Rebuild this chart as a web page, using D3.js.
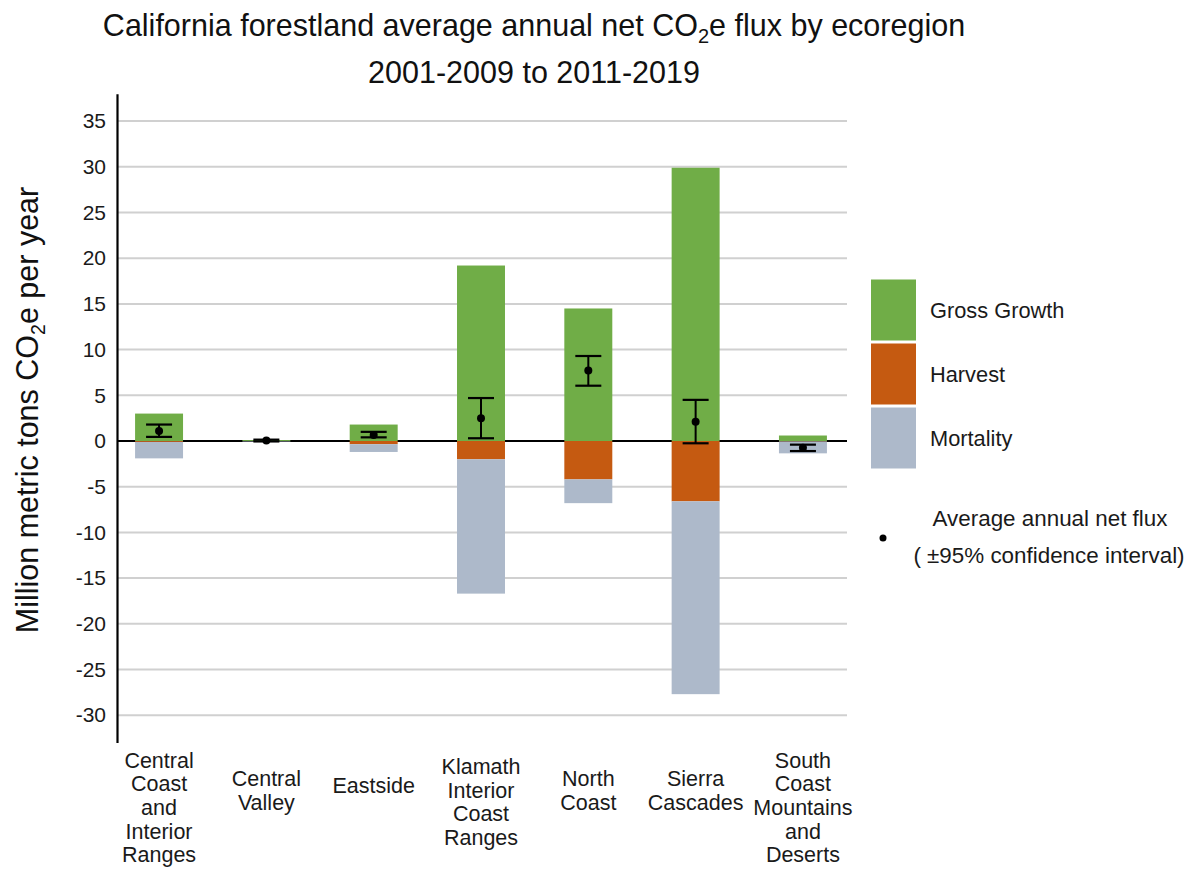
<!DOCTYPE html>
<html>
<head>
<meta charset="utf-8">
<script src="https://cdn.jsdelivr.net/npm/d3@7"></script>
<style>
  html, body { margin: 0; padding: 0; background: #ffffff; }
  svg { display: block; font-family: "Liberation Sans", Arial, sans-serif; }
</style>
</head>
<body>
<svg id="chart" width="1191" height="869"></svg>
<script>
// ---- data ----
const categories = [
  "Central Coast and Interior Ranges",
  "Central Valley",
  "Eastside",
  "Klamath Interior Coast Ranges",
  "North Coast",
  "Sierra Cascades",
  "South Coast Mountains and Deserts"
];
const categoryLines = [
  ["Central", "Coast", "and", "Interior", "Ranges"],
  ["Central", "Valley"],
  ["Eastside"],
  ["Klamath", "Interior", "Coast", "Ranges"],
  ["North", "Coast"],
  ["Sierra", "Cascades"],
  ["South", "Coast", "Mountains", "and", "Deserts"]
];
const grossGrowth = [3.0, 0.1, 1.8, 19.2, 14.5, 29.9, 0.6];
const harvest     = [-0.1, 0.0, -0.35, -2.0, -4.2, -6.6, -0.05];
const mortality   = [-1.8, -0.05, -0.85, -14.7, -2.6, -21.1, -1.3];
const netFlux     = [1.1, 0.05, 0.65, 2.5, 7.7, 2.1, -0.75];
const ciLow       = [0.45, -0.05, 0.4, 0.3, 6.05, -0.25, -1.1];
const ciHigh      = [1.8, 0.15, 1.0, 4.7, 9.3, 4.5, -0.4];
const yTicks      = [-30, -25, -20, -15, -10, -5, 0, 5, 10, 15, 20, 25, 30, 35];
const seriesNames = ["Gross Growth", "Harvest", "Mortality"];
const seriesColors = ["#70ad47", "#c55a11", "#adb9ca"];

// ---- setup ----
const svg = d3.select("#chart");
const axisX = 117, plotRight = 847;

const x = d3.scaleBand()
  .domain(categories)
  .range([105.4, 856.6])
  .paddingInner(0.553)
  .paddingOuter(0.2765);

const y = d3.scaleLinear().domain([-33, 38]).range([742.6, 93.7]);

const table = categories.map((c, i) => ({
  cat: c,
  "Gross Growth": grossGrowth[i],
  "Harvest": harvest[i],
  "Mortality": mortality[i]
}));
const stacked = d3.stack().keys(seriesNames).offset(d3.stackOffsetDiverging)(table);
const color = d3.scaleOrdinal().domain(seriesNames).range(seriesColors);

// gridlines
svg.append("g")
  .selectAll("line")
  .data(yTicks.filter(t => t !== 0))
  .join("line")
  .attr("x1", axisX).attr("x2", plotRight)
  .attr("y1", d => y(d)).attr("y2", d => y(d))
  .attr("stroke", "#d0d0d0").attr("stroke-width", 2);

// zero line
svg.append("line")
  .attr("x1", axisX).attr("x2", plotRight)
  .attr("y1", y(0)).attr("y2", y(0))
  .attr("stroke", "#000").attr("stroke-width", 2.2);

// y axis
const yAxis = d3.axisLeft(y).tickValues(yTicks).tickSize(0).tickPadding(11).tickFormat(d => String(d));
const gy = svg.append("g").attr("transform", `translate(${axisX},0)`).call(yAxis);
gy.select(".domain").attr("stroke", "#000").attr("stroke-width", 2.2);
gy.selectAll("text").attr("font-size", 21).attr("fill", "#1a1a1a")
  .attr("font-family", "Liberation Sans, Arial, sans-serif");

// bars
svg.append("g")
  .selectAll("g")
  .data(stacked)
  .join("g")
  .attr("fill", d => color(d.key))
  .selectAll("rect")
  .data(d => d)
  .join("rect")
  .attr("x", d => x(d.data.cat))
  .attr("width", x.bandwidth())
  .attr("y", d => y(Math.max(d[0], d[1])))
  .attr("height", d => Math.abs(y(d[0]) - y(d[1])));

// error bars + points
const eb = svg.append("g");
const capW = 26;
categories.forEach((c, i) => {
  const cx = x(c) + x.bandwidth() / 2;
  eb.append("line").attr("x1", cx).attr("x2", cx)
    .attr("y1", y(ciLow[i])).attr("y2", y(ciHigh[i]))
    .attr("stroke", "#000").attr("stroke-width", 2);
  [ciLow[i], ciHigh[i]].forEach(v => {
    eb.append("line").attr("x1", cx - capW / 2).attr("x2", cx + capW / 2)
      .attr("y1", y(v)).attr("y2", y(v))
      .attr("stroke", "#000").attr("stroke-width", 2.2);
  });
  eb.append("circle").attr("cx", cx).attr("cy", y(netFlux[i])).attr("r", 4).attr("fill", "#000");
});

// x labels
const xl = svg.append("g");
categories.forEach((c, i) => {
  const lines = categoryLines[i];
  const cx = x(c) + x.bandwidth() / 2;
  const firstY = 785 - (lines.length - 1) * 6.2;
  const t = xl.append("text")
    .attr("text-anchor", "middle")
    .attr("font-size", 21.5)
    .attr("fill", "#1a1a1a");
  lines.forEach((ln, k) => {
    t.append("tspan").attr("x", cx).attr("y", firstY + k * 23.6).attr("dy", "0.35em").text(ln);
  });
});

// title
const title = svg.append("text")
  .attr("x", 534).attr("y", 36)
  .attr("text-anchor", "middle")
  .attr("font-size", 30.5).attr("fill", "#111");
title.append("tspan").text("California forestland average annual net CO");
title.append("tspan").attr("font-size", 20).attr("dy", 7).text("2");
title.append("tspan").attr("dy", -7).text("e flux by ecoregion");
svg.append("text")
  .attr("x", 534).attr("y", 83)
  .attr("text-anchor", "middle")
  .attr("font-size", 30.5).attr("fill", "#111")
  .text("2001-2009 to 2011-2019");

// y axis title
const yt = svg.append("text")
  .attr("transform", "translate(38,410) rotate(-90)")
  .attr("text-anchor", "middle")
  .attr("font-size", 30.5).attr("fill", "#111");
yt.append("tspan").text("Million metric tons CO");
yt.append("tspan").attr("font-size", 19.5).attr("dy", 7).text("2");
yt.append("tspan").attr("dy", -7).text("e per year");

// legend
const lg = svg.append("g");
seriesNames.forEach((s, i) => {
  const top = 279.5 + i * 64;
  lg.append("rect").attr("x", 871).attr("y", top).attr("width", 45).attr("height", 61)
    .attr("fill", color(s));
  lg.append("text").attr("x", 930).attr("y", top + 38).attr("font-size", 21.8)
    .attr("fill", "#1a1a1a").text(s);
});
lg.append("circle").attr("cx", 883).attr("cy", 538).attr("r", 3.5).attr("fill", "#000");
lg.append("text").attr("x", 1050).attr("y", 526).attr("text-anchor", "middle")
  .attr("font-size", 22.4).attr("fill", "#1a1a1a").text("Average annual net flux");
lg.append("text").attr("x", 1049).attr("y", 563).attr("text-anchor", "middle")
  .attr("font-size", 22.4).attr("fill", "#1a1a1a").text("( \u00b195% confidence interval)");
</script>
</body>
</html>
